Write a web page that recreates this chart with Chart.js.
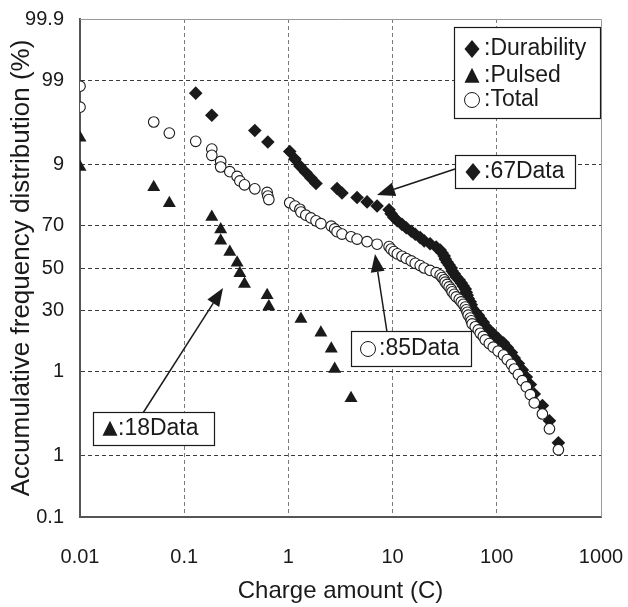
<!DOCTYPE html>
<html>
<head>
<meta charset="utf-8">
<script src="https://cdn.jsdelivr.net/npm/chart.js@4.4.1/dist/chart.umd.min.js"></script>
<style>
  html, body { margin: 0; padding: 0; background: #fff; }
  #wrap { width: 628px; height: 607px; }
</style>
</head>
<body>
<div id="wrap"><canvas id="chart"></canvas></div>
<script>
// axis ticks
const xTickValues = [0.01, 0.1, 1, 10, 100, 1000];
const xTickLabels = ['0.01', '0.1', '1', '10', '100', '1000'];
const yTickValues = [0.1, 1, 10, 30, 50, 70, 90, 99, 99.9];
const yTickLabels = ['0.1', '1', '1', '30', '50', '70', '9', '99', '99.9'];

// Durability (67 points): charge (C) and accumulative %
const durabilityCharge = [0.129, 0.184, 0.476, 0.635, 1.03, 1.155, 1.29, 1.47, 1.645, 1.84,
  2.93, 3.27, 4.56, 5.69, 7.10, 9.25, 9.67, 10.3, 11.1, 12.3, 13.5, 15.1, 16.5, 18.4, 20.1,
  22.9, 26.2, 28.6, 29.9, 31.3, 32.0, 33.4, 34.9, 36.5, 37.3, 39.0, 40.8, 43.6, 45.6, 47.6,
  49.8, 50.9, 52.0, 53.2, 55.6, 56.9, 58.1, 62.1, 66.4, 69.4, 74.2, 77.5, 84.7, 92.5, 103,
  116, 126, 138, 147, 161, 176, 192, 210, 229, 274, 320, 390];
const durabilityPct = [98.5, 97.1, 95.6, 94.1, 92.6, 91.2, 89.7, 88.2, 86.8, 85.3,
  83.8, 82.4, 80.9, 79.4, 77.9, 76.5, 75.0, 73.5, 72.1, 70.6, 69.1, 67.6, 66.2, 64.7, 63.2,
  61.8, 60.3, 58.8, 57.4, 55.9, 54.4, 52.9, 51.5, 50.0, 48.5, 47.1, 45.6, 44.1, 42.6, 41.2,
  39.7, 38.2, 36.8, 35.3, 33.8, 32.4, 30.9, 29.4, 27.9, 26.5, 25.0, 23.5, 22.1, 20.6, 19.1,
  17.6, 16.2, 14.7, 13.2, 11.8, 10.3, 8.8, 7.4, 5.9, 4.4, 2.9, 1.5];

// Pulsed (18 points)
const pulsedCharge = [0.01, 0.01, 0.051, 0.072, 0.184, 0.224, 0.224, 0.274, 0.322, 0.342,
  0.379, 0.625, 0.649, 1.32, 2.05, 2.58, 2.78, 3.99];
const pulsedPct = [94.7, 89.5, 84.2, 78.9, 73.7, 68.4, 63.2, 57.9, 52.6, 47.4,
  42.1, 36.8, 31.6, 26.3, 21.1, 15.8, 10.5, 5.3];

// Total (85 points)
const totalCharge = [0.01, 0.01, 0.051, 0.072, 0.129, 0.184, 0.184, 0.224, 0.224, 0.274,
  0.322, 0.342, 0.379, 0.476, 0.625, 0.635, 0.649, 1.03, 1.155, 1.29, 1.32, 1.47, 1.645, 1.84,
  2.05, 2.58, 2.78, 2.93, 3.27, 3.99, 4.56, 5.69, 7.10, 9.25, 9.67, 10.3, 11.1, 12.3, 13.5,
  15.1, 16.5, 18.4, 20.1, 22.9, 26.2, 28.6, 29.9, 31.3, 32.0, 33.4, 34.9, 36.5, 37.3, 39.0,
  40.8, 43.6, 45.6, 47.6, 49.8, 50.9, 52.0, 53.2, 55.6, 56.9, 58.1, 62.1, 66.4, 69.4, 74.2,
  77.5, 84.7, 92.5, 103, 116, 126, 138, 147, 161, 176, 192, 210, 229, 274, 320, 390];
const totalPct = [98.8, 97.7, 96.5, 95.3, 94.2, 93.0, 91.9, 90.7, 89.5, 88.4,
  87.2, 86.0, 84.9, 83.7, 82.6, 81.4, 80.2, 79.1, 77.9, 76.7, 75.6, 74.4, 73.3, 72.1, 70.9,
  69.8, 68.6, 67.4, 66.3, 65.1, 64.0, 62.8, 61.6, 60.5, 59.3, 58.1, 57.0, 55.8, 54.7, 53.5,
  52.3, 51.2, 50.0, 48.8, 47.7, 46.5, 45.3, 44.2, 43.0, 41.9, 40.7, 39.5, 38.4, 37.2, 36.0,
  34.9, 33.7, 32.6, 31.4, 30.2, 29.1, 27.9, 26.7, 25.6, 24.4, 23.3, 22.1, 20.9, 19.8, 18.6,
  17.4, 16.3, 15.1, 14.0, 12.8, 11.6, 10.5, 9.3, 8.1, 7.0, 5.8, 4.7, 3.5, 2.3, 1.2];

// normal probability scale (inverse normal CDF, Acklam)
function probit(p) {
    const a = [-3.969683028665376e+01, 2.209460984245205e+02, -2.759285104469687e+02, 1.383577518672690e+02, -3.066479806614716e+01, 2.506628277459239e+00];
    const b = [-5.447609879822406e+01, 1.615858368580409e+02, -1.556989798598866e+02, 6.680131188771972e+01, -1.328068155288572e+01];
    const c = [-7.784894002430293e-03, -3.223964580411365e-01, -2.400758277161838e+00, -2.549732539343734e+00, 4.374664141464968e+00, 2.938163982698783e+00];
    const d = [7.784695709041462e-03, 3.224671290700398e-01, 2.445134137142996e+00, 3.754408661907416e+00];
    const pl = 0.02425;
    let q, r;
    if (p < pl) {
        q = Math.sqrt(-2 * Math.log(p));
        return (((((c[0] * q + c[1]) * q + c[2]) * q + c[3]) * q + c[4]) * q + c[5]) / ((((d[0] * q + d[1]) * q + d[2]) * q + d[3]) * q + 1);
    }
    if (p > 1 - pl) {
        q = Math.sqrt(-2 * Math.log(1 - p));
        return -(((((c[0] * q + c[1]) * q + c[2]) * q + c[3]) * q + c[4]) * q + c[5]) / ((((d[0] * q + d[1]) * q + d[2]) * q + d[3]) * q + 1);
    }
    q = p - 0.5;
    r = q * q;
    return (((((a[0] * r + a[1]) * r + a[2]) * r + a[3]) * r + a[4]) * r + a[5]) * q / (((((b[0] * r + b[1]) * r + b[2]) * r + b[3]) * r + b[4]) * r + 1);
}

function toPoints(xs, ps) {
    return xs.map((x, i) => ({ x: x, y: probit(ps[i] / 100) }));
}

const FONT = 'Liberation Sans, Arial, Helvetica, sans-serif';
const INK = '#1a1a1a';

function diamond(ctx, x, y, w, h) {
    ctx.beginPath();
    ctx.moveTo(x, y - h); ctx.lineTo(x + w, y); ctx.lineTo(x, y + h); ctx.lineTo(x - w, y);
    ctx.closePath(); ctx.fill();
}
function triangle(ctx, x, y, s) {
    ctx.beginPath();
    ctx.moveTo(x, y - s * 0.55); ctx.lineTo(x + s / 2, y + s * 0.45); ctx.lineTo(x - s / 2, y + s * 0.45);
    ctx.closePath(); ctx.fill();
}
function ring(ctx, x, y, r) {
    ctx.beginPath(); ctx.arc(x, y, r, 0, Math.PI * 2);
    ctx.fillStyle = '#fff'; ctx.fill();
    ctx.lineWidth = 1; ctx.strokeStyle = INK; ctx.stroke();
    ctx.fillStyle = INK;
}
function arrow(ctx, x1, y1, x2, y2) {
    const ang = Math.atan2(y2 - y1, x2 - x1);
    const len = 18, half = 7;
    const bx = x2 - Math.cos(ang) * len, by = y2 - Math.sin(ang) * len;
    ctx.beginPath(); ctx.moveTo(x1, y1); ctx.lineTo(bx, by);
    ctx.lineWidth = 1.5; ctx.strokeStyle = INK; ctx.stroke();
    ctx.beginPath();
    ctx.moveTo(x2, y2);
    ctx.lineTo(bx + Math.sin(ang) * half, by - Math.cos(ang) * half);
    ctx.lineTo(bx - Math.sin(ang) * half, by + Math.cos(ang) * half);
    ctx.closePath(); ctx.fill();
}
function box(ctx, x, y, w, h) {
    ctx.fillStyle = '#fff'; ctx.fillRect(x, y, w, h);
    ctx.lineWidth = 1.2; ctx.strokeStyle = INK; ctx.strokeRect(x, y, w, h);
    ctx.fillStyle = INK;
}

const notesPlugin = {
    id: 'notes',
    afterDraw(chart) {
        const ctx = chart.ctx;
        const a = chart.chartArea;
        ctx.save();
        // light frame on top and right
        ctx.strokeStyle = '#9a9a9a'; ctx.lineWidth = 1;
        ctx.beginPath();
        ctx.moveTo(a.left, a.top + 0.5); ctx.lineTo(a.right + 0.5, a.top + 0.5); ctx.lineTo(a.right + 0.5, a.bottom);
        ctx.stroke();

        ctx.font = '23px ' + FONT;
        ctx.textBaseline = 'middle';
        ctx.textAlign = 'left';

        // legend
        box(ctx, 454.5, 27.5, 146, 91);
        diamond(ctx, 472, 49, 7.5, 9);
        ctx.fillText(':Durability', 484, 49);
        triangle(ctx, 472, 76, 15);
        ctx.fillText(':Pulsed', 484, 76);
        ring(ctx, 472, 100, 7.5);
        ctx.fillText(':Total', 484, 100);

        // arrows
        arrow(ctx, 455, 169, 377, 195);
        arrow(ctx, 387, 332, 375, 254);
        arrow(ctx, 143, 413, 223, 288);

        // data count boxes
        box(ctx, 455.5, 155.5, 120, 33);
        diamond(ctx, 473, 172, 7.5, 9);
        ctx.fillText(':67Data', 484, 172);

        box(ctx, 351.5, 331.5, 120, 35);
        ring(ctx, 368, 349, 7.5);
        ctx.fillText(':85Data', 379, 349);

        box(ctx, 93.5, 412.5, 121, 33);
        triangle(ctx, 110, 429, 15);
        ctx.fillText(':18Data', 118, 429);
        ctx.restore();
    }
};

new Chart(document.getElementById('chart'), {
    type: 'scatter',
    data: {
        datasets: [
            {
                label: 'Total',
                data: toPoints(totalCharge, totalPct),
                pointStyle: 'circle',
                pointRadius: 5.3,
                backgroundColor: '#fff',
                borderColor: INK,
                borderWidth: 1.1
            },
            {
                label: 'Pulsed',
                data: toPoints(pulsedCharge, pulsedPct),
                pointStyle: 'triangle',
                pointRadius: 7.5,
                backgroundColor: INK,
                borderColor: INK,
                borderWidth: 0
            },
            {
                label: 'Durability',
                data: toPoints(durabilityCharge, durabilityPct),
                pointStyle: 'rectRot',
                pointRadius: 6.8,
                backgroundColor: INK,
                borderColor: INK,
                borderWidth: 0
            }
        ]
    },
    options: {
        responsive: true,
        maintainAspectRatio: false,
        animation: false,
        layout: { padding: { top: 19, right: 27, left: 0, bottom: 0 } },
        plugins: {
            legend: { display: false },
            tooltip: { enabled: false }
        },
        scales: {
            x: {
                type: 'logarithmic',
                min: 0.01,
                max: 1000,
                afterBuildTicks: (scale) => {
                    scale.ticks = xTickValues.map(v => ({ value: v }));
                },
                afterFit: (scale) => {
                    scale.height = 90;
                    scale.paddingLeft = 0;
                    scale.paddingRight = 0;
                },
                ticks: {
                    autoSkip: false,
                    maxRotation: 0,
                    padding: 28,
                    color: INK,
                    font: { family: FONT, size: 20 },
                    callback: (v, i) => xTickLabels[i]
                },
                grid: {
                    drawTicks: false,
                    color: (c) => (c.index === 0 || c.index === xTickValues.length - 1) ? 'rgba(0,0,0,0)' : '#7a7a7a',
                    lineWidth: 1
                },
                border: { display: true, color: '#555', width: 2, dash: [4, 3] },
                title: {
                    display: true,
                    text: 'Charge amount (C)',
                    color: INK,
                    font: { family: FONT, size: 24 },
                    padding: { top: 0, bottom: 1 }
                }
            },
            y: {
                type: 'linear',
                min: probit(0.001),
                max: probit(0.999),
                afterBuildTicks: (scale) => {
                    scale.ticks = yTickValues.map(v => ({ value: probit(v / 100) }));
                },
                afterFit: (scale) => {
                    scale.width = 80;
                    scale.paddingTop = 0;
                    scale.paddingBottom = 0;
                },
                ticks: {
                    autoSkip: false,
                    padding: 16,
                    color: INK,
                    font: { family: FONT, size: 20 },
                    callback: (v, i) => yTickLabels[i]
                },
                grid: {
                    drawTicks: false,
                    color: (c) => (c.index === 0 || c.index === yTickValues.length - 1) ? 'rgba(0,0,0,0)' : '#3a3a3a',
                    lineWidth: 1
                },
                border: { display: true, color: '#555', width: 2, dash: [4, 3] },
                title: {
                    display: true,
                    text: 'Accumulative frequency distribution (%)',
                    color: INK,
                    font: { family: FONT, size: 26 },
                    padding: { top: 6, bottom: 0 }
                }
            }
        }
    },
    plugins: [notesPlugin]
});
</script>
</body>
</html>
